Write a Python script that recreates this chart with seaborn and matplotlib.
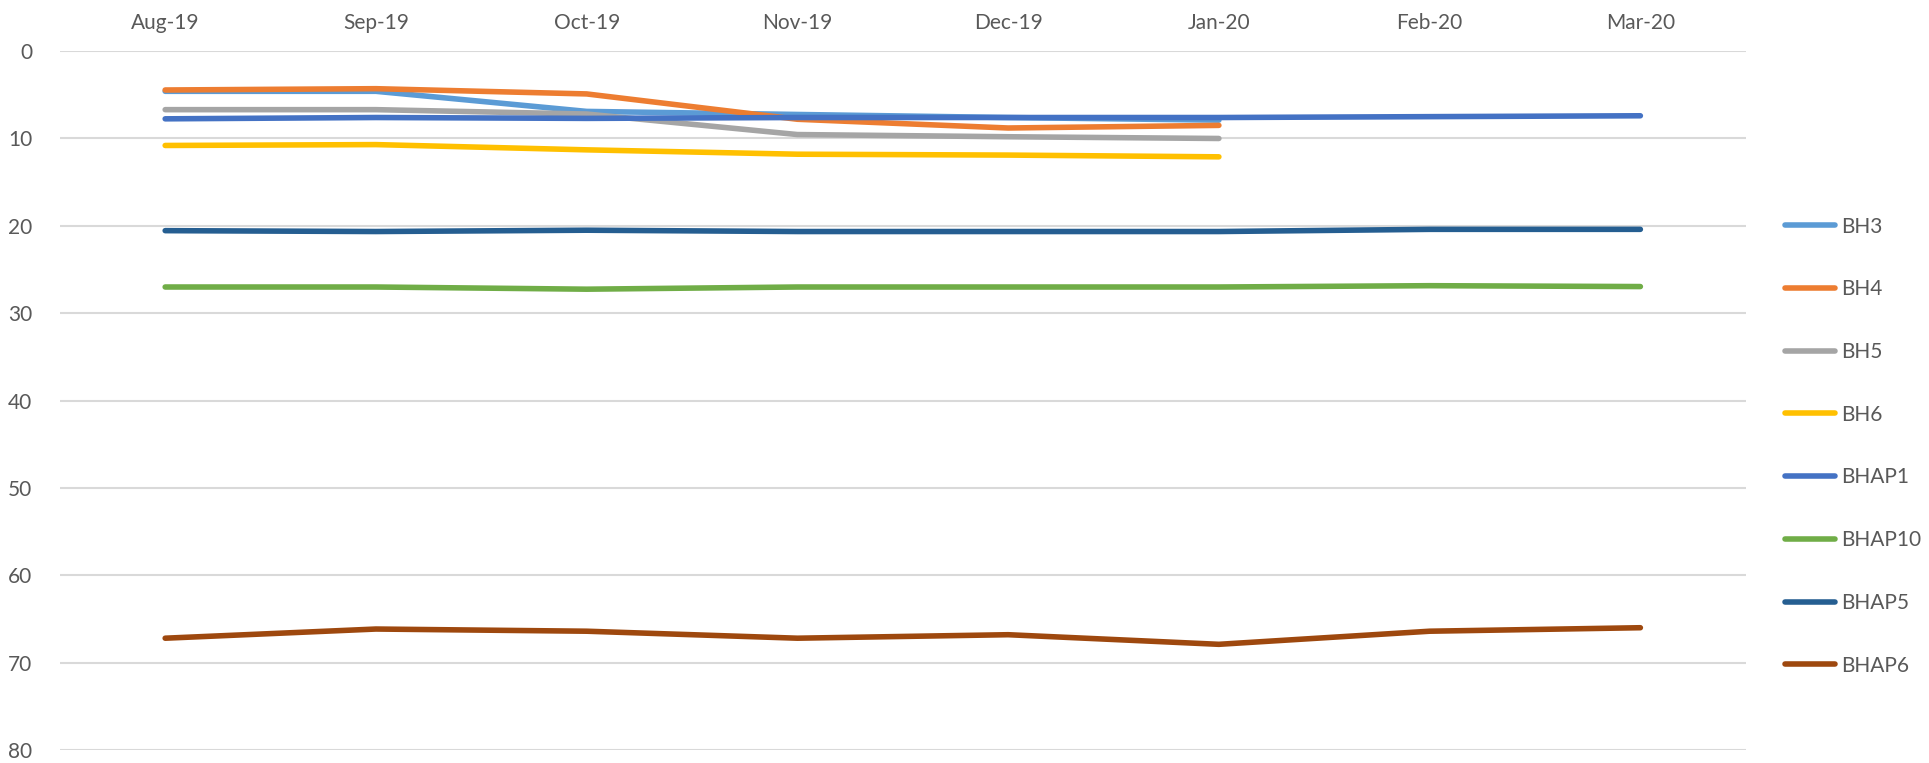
import numpy as np
import pandas as pd
import matplotlib
matplotlib.use("Agg")
import matplotlib.pyplot as plt
import seaborn as sns

months = ["Aug-19", "Sep-19", "Oct-19", "Nov-19", "Dec-19", "Jan-20", "Feb-20", "Mar-20"]
nan = np.nan
bh3 = [4.6, 4.6, 6.9, 7.25, 7.6, 7.9, nan, nan]
bh4 = [4.45, 4.3, 4.9, 7.8, 8.8, 8.5, nan, nan]
bh5 = [6.7, 6.7, 7.2, 9.55, 9.8, 10.0, nan, nan]
bh6 = [10.8, 10.7, 11.3, 11.8, 11.9, 12.1, nan, nan]
bhap1 = [7.75, 7.6, 7.7, 7.6, 7.6, 7.6, 7.5, 7.4]
bhap10 = [27.0, 27.0, 27.25, 27.0, 27.0, 27.0, 26.85, 26.95]
bhap5 = [20.55, 20.65, 20.5, 20.65, 20.65, 20.65, 20.4, 20.4]
bhap6 = [67.2, 66.15, 66.4, 67.2, 66.8, 67.9, 66.4, 66.0]

series_names = ["BH3", "BH4", "BH5", "BH6", "BHAP1", "BHAP10", "BHAP5", "BHAP6"]
series_vals = [bh3, bh4, bh5, bh6, bhap1, bhap10, bhap5, bhap6]
colors = ["#5B9BD5", "#ED7D31", "#A5A5A5", "#FFC000", "#4472C4", "#70AD47", "#255E91", "#9E480E"]

rows = []
for name, vals in zip(series_names, series_vals):
    for i, (m, v) in enumerate(zip(months, vals)):
        rows.append({"idx": i, "month": m, "series": name, "value": v})
df = pd.DataFrame(rows).dropna()

sns.set_theme(style="white")
plt.rcParams["font.family"] = ["Lato", "DejaVu Sans"]

fig = plt.figure(figsize=(19.29, 7.63), dpi=100)
ax = fig.add_axes([0.031, 0.017, 0.874, 0.916])

sns.lineplot(data=df, x="idx", y="value", hue="series", hue_order=series_names,
             palette=colors, linewidth=4, ax=ax, sort=True,
             solid_capstyle="round", solid_joinstyle="round")

ax.set_xlim(-0.5, 7.5)
ax.set_ylim(80, 0)
ax.set_yticks(np.arange(0, 81, 10))
ax.set_xticks(range(len(months)))
ax.set_xticklabels(months)
ax.xaxis.tick_top()
ax.tick_params(axis="x", length=0, pad=13, labelsize=15, labelcolor="#595959")
ax.tick_params(axis="y", length=0, pad=20, labelsize=15, labelcolor="#595959")
ax.set_xlabel("")
ax.set_ylabel("")
ax.grid(axis="y", color="#D9D9D9", linewidth=1.5)
ax.grid(axis="x", visible=False)
for s in ax.spines.values():
    s.set_visible(False)

leg = ax.legend(loc="upper left", bbox_to_anchor=(1.012, 0.79), frameon=False,
                fontsize=15, handlelength=2.4, handletextpad=0.3,
                labelspacing=2.05, labelcolor="#595959")
for h in leg.get_lines():
    h.set_linewidth(4)
    h.set_solid_capstyle("round")

fig.savefig("out.png", dpi=100, facecolor="white")
